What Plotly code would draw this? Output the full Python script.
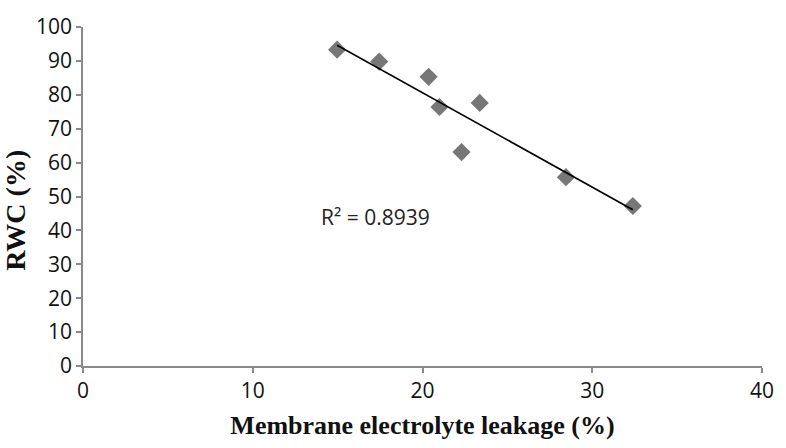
import numpy as np
import plotly.graph_objects as go

leakage = [14.97, 17.45, 20.36, 21.0, 22.3, 23.37, 28.45, 32.39]
rwc = [93.3, 89.8, 85.3, 76.4, 63.1, 77.6, 55.7, 47.2]
x_ticks = [0, 10, 20, 30, 40]
y_ticks = [0, 10, 20, 30, 40, 50, 60, 70, 80, 90, 100]
r2_label = "R² = 0.8939"
x_title = "Membrane electrolyte leakage (%)"
y_title = "RWC (%)"

slope, intercept = np.polyfit(leakage, rwc, 1)
x_fit = [min(leakage), max(leakage)]
y_fit = [slope * v + intercept for v in x_fit]

W, H = 786, 448
ML, MR, MT, MB = 83, 15, 14, 82

fig = go.Figure()
fig.add_trace(go.Scatter(x=leakage, y=rwc, mode="markers",
                         marker=dict(symbol="diamond", size=14, color="#777777",
                                     line=dict(width=0)),
                         showlegend=False, cliponaxis=False))
fig.add_trace(go.Scatter(x=x_fit, y=y_fit, mode="lines",
                         line=dict(color="black", width=1.6), showlegend=False))

fig.add_annotation(x=13.93, y=43.9, xanchor="left", yanchor="middle", text=r2_label,
                   showarrow=False, font=dict(family="Open Sans", size=21, color="#222"))

# y-axis title placed as rotated annotation (paper coordinates)
fig.add_annotation(xref="paper", yref="paper",
                   x=(15 - ML) / (W - ML - MR), y=(H - MB - 204) / (H - MT - MB),
                   xanchor="center", yanchor="middle", textangle=-90,
                   text="<b>" + y_title + "</b>", showarrow=False,
                   font=dict(family="Liberation Serif", size=28, color="#111"))

axis_common = dict(showgrid=False, zeroline=False, showline=True, linecolor="#8a8a8a",
                   linewidth=1.5, ticks="outside", ticklen=5, tickcolor="#8a8a8a",
                   tickwidth=1.5, ticklabeloverflow="allow",
                   tickfont=dict(family="Open Sans", size=21, color="#111"))

fig.update_xaxes(range=[0, 40], tickvals=x_ticks, **axis_common,
                 title=dict(text="<b>" + x_title + "</b>",
                            font=dict(family="Liberation Serif", size=26, color="#111"),
                            standoff=13))
fig.update_yaxes(range=[0, 100], tickvals=y_ticks, **axis_common)

fig.update_layout(width=W, height=H, margin=dict(l=ML, r=MR, t=MT, b=MB),
                  plot_bgcolor="white", paper_bgcolor="white")

fig.write_html("out.html", config={"displayModeBar": False},
               post_script="document.body.style.margin='0';document.body.style.padding='0';"
                           "document.body.style.overflow='hidden';")
